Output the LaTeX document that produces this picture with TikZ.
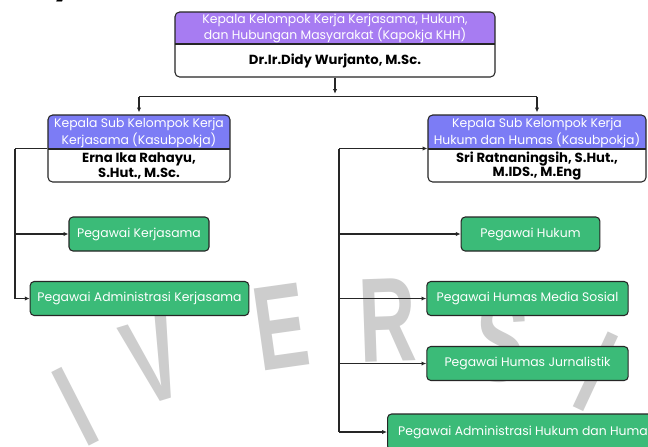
\documentclass[tikz,border=0pt]{standalone}
\usepackage{fontspec}
\setmainfont{Poppins}
\newfontfamily\wmfont{Liberation Sans}
\usetikzlibrary{arrows.meta,positioning,calc}
\definecolor{kapokjaungu}{HTML}{A77CF2}
\definecolor{kasubungu}{HTML}{7C7CF5}
\definecolor{pegawaihijau}{HTML}{3BBB78}
\definecolor{garis}{HTML}{262626}
\definecolor{tandaair}{HTML}{CDCDCD}
\tikzset{
  orgarr/.style={-{Latex[length=3.6pt,width=3.2pt]}, line width=0.8pt, draw=garis},
  orgline/.style={line width=0.8pt, draw=garis},
  headbox/.style n args={4}{draw=garis, line width=0.8pt, rounded corners=3.5pt, fill=white,
    minimum width=#1, minimum height=#2, inner sep=0pt,
    path picture={
      \fill[#3, sharp corners] (path picture bounding box.north west) rectangle ([yshift=-#4]path picture bounding box.north east);
      \draw[garis, line width=0.8pt, sharp corners] ([yshift=-#4]path picture bounding box.north west) -- ([yshift=-#4]path picture bounding box.north east);
    }},
  pegbox/.style={draw=garis, line width=0.8pt, rounded corners=3pt, fill=pegawaihijau, text=white,
    minimum height=25.5pt, inner xsep=3pt, font=\fontsize{9.3}{10}\selectfont},
}

\begin{document}
\begin{tikzpicture}[
  x=0.75pt, y=-0.75pt,
  judul/.style={text=white, align=center, inner sep=0pt, font=\fontsize{9.3}{12}\selectfont},
  nama/.style={align=center, inner sep=0pt, font=\bfseries\fontsize{9.9}{8.5}\selectfont},
  tanda/.style={text=tandaair, inner sep=0pt, font=\wmfont\bfseries\fontsize{90}{90}\selectfont},
]
  \useasboundingbox (0,0) rectangle (648,446);
  \clip (0,0) rectangle (648,446);
  \fill[white] (0,0) rectangle (648,446);

  % watermark
  \foreach \h/\wx/\wy/\rot [count=\i] in {I/76/407/27, V/154/360/17, E/281/327/8, R/388/320/2, S/500/340/-8, I/596/372/-25}
    \node[tanda, rotate=\rot, xscale=0.66] (wm\i) at (\wx,\wy) {\h};
  \node[inner sep=0pt, anchor=base west, font=\bfseries\fontsize{24}{24}\selectfont] (judulatas) at (53,-7) {y};

  % kepala kelompok
  \node[headbox={240pt}{48.75pt}{kapokjaungu}{24pt}] (kapokja) at (335,44.5) {};
  \node[judul] (kapokjaJ) at (335,28) {Kepala Kelompok Kerja Kerjasama, Hukum,\\dan Hubungan Masyarakat (Kapokja KHH)};
  \node[nama] (kapokjaN) at (335,61) {Dr.Ir.Didy Wurjanto, M.Sc.};

  % kasubpokja
  \node[headbox={136.5pt}{50.25pt}{kasubungu}{25.5pt}] (kasubKS) at (139,148.5) {};
  \node[judul, font=\fontsize{9.3}{12.75}\selectfont] (kasubKSJ) at (139,132.5) {Kepala Sub Kelompok Kerja\\Kerjasama (Kasubpokja)};
  \node[nama] (kasubKSN) at (139,166) {Erna Ika Rahayu,\\S.Hut., M.Sc.};
  \node[headbox={163.5pt}{50.25pt}{kasubungu}{25.5pt}] (kasubHH) at (537,148.5) {};
  \node[judul, font=\fontsize{9.3}{12.75}\selectfont] (kasubHHJ) at (537,132.5) {Kepala Sub Kelompok Kerja\\Hukum dan Humas (Kasubpokja)};
  \node[nama] (kasubHHN) at (537,166) {Sri Ratnaningsih, S.Hut.,\\M.IDS., M.Eng};

  % pegawai
  \node[pegbox, minimum width=105pt] (pegKS) at (139,234) {Pegawai Kerjasama};
  \node[pegbox, minimum width=164pt] (admKS) at (139.5,298.5) {Pegawai Administrasi Kerjasama};
  \node[pegbox, minimum width=104pt] (pegHukum) at (530.5,234) {Pegawai Hukum};
  \node[pegbox, minimum width=151pt] (humasMS) at (527.5,298.5) {Pegawai Humas Media Sosial};
  \node[pegbox, minimum width=151pt] (humasJur) at (527.5,363.5) {Pegawai Humas Jurnalistik};
  \node[pegbox, anchor=west, inner xsep=8pt, minimum height=27pt] (admHH) at (387,432) {Pegawai Administrasi Hukum dan Humas};

  % connectors
  \coordinate (cabang) at (335,96.5);
  \coordinate (jalurKS) at (15,0);
  \coordinate (jalurHH) at (339,0);
  \draw[orgarr, shorten >=2pt] (kapokja) -- (cabang);
  \draw[orgline] (kasubKS.north |- cabang) -- (kasubHH.north |- cabang);
  \foreach \k in {kasubKS,kasubHH}
    \draw[orgarr, shorten >=1.5pt] (\k.north |- cabang) -- (\k);
  \draw[orgline] (kasubKS.west) -- (kasubKS.west -| jalurKS);
  \foreach \p in {pegKS,admKS}
    \draw[orgarr] (kasubKS.west -| jalurKS) |- (\p.west);
  \draw[orgline] (kasubHH.west -| jalurHH) -- (admHH.west -| jalurHH);
  \foreach \p in {kasubHH,pegHukum,humasMS,humasJur,admHH}
    \draw[orgarr] (\p.west -| jalurHH) -- (\p.west);
\end{tikzpicture}
\end{document}
